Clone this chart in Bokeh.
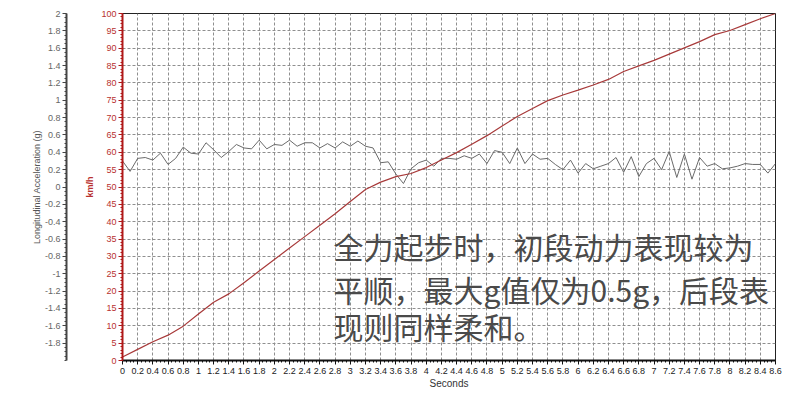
from bokeh.plotting import figure
from bokeh.models import (Range1d, LinearAxis, SingleIntervalTicker, FixedTicker,
                          CustomJSTickFormatter, Label, ColumnDataSource)
from bokeh.embed import file_html
from bokeh.resources import INLINE

# Longitudinal acceleration (g), logged every 0.1 s
accel_time = [round(i * 0.1, 1) for i in range(87)]
accel_g = [
    0.30, 0.18, 0.33, 0.34, 0.31, 0.39, 0.26, 0.33, 0.46, 0.39,
    0.38, 0.51, 0.43, 0.34, 0.41, 0.49, 0.45, 0.44, 0.54, 0.44,
    0.49, 0.48, 0.54, 0.47, 0.51, 0.51, 0.45, 0.50, 0.45, 0.52,
    0.47, 0.53, 0.47, 0.45, 0.28, 0.29, 0.15, 0.04, 0.21, 0.28,
    0.31, 0.24, 0.33, 0.33, 0.32, 0.36, 0.33, 0.38, 0.27, 0.42,
    0.40, 0.27, 0.45, 0.27, 0.38, 0.32, 0.33, 0.26, 0.20, 0.31,
    0.16, 0.27, 0.21, 0.24, 0.27, 0.34, 0.17, 0.35, 0.12, 0.27,
    0.33, 0.20, 0.41, 0.11, 0.38, 0.09, 0.34, 0.24, 0.27, 0.21,
    0.22, 0.24, 0.27, 0.26, 0.26, 0.16, 0.27,
]

# Vehicle speed (km/h), every 0.2 s
speed_time = [round(i * 0.2, 1) for i in range(44)]
speed_kmh = [
    1.0, 3.2, 5.4, 7.3, 9.9, 13.4, 16.8, 19.2, 22.4, 25.8,
    29.1, 32.4, 35.7, 39.0, 42.3, 45.8, 49.3, 51.4, 53.0, 53.9,
    55.6, 57.8, 59.9, 62.3, 64.8, 67.6, 70.3, 72.6, 74.9, 76.5,
    77.9, 79.4, 81.0, 83.3, 84.9, 86.5, 88.3, 90.1, 91.9, 93.9,
    95.1, 96.8, 98.5, 100.0,
]

accel_ticks = [-1.8, -1.6, -1.4, -1.2, -1.0, -0.8, -0.6, -0.4, -0.2, 0.0,
               0.2, 0.4, 0.6, 0.8, 1.0, 1.2, 1.4, 1.6, 1.8, 2.0]

note_lines = ["全力起步时，初段动力表现较为",
              "平顺，最大g值仅为0.5g，后段表",
              "现则同样柔和。"]

AXIS_FONT = "Liberation Sans"
RED = "#b8312f"
GRID = "#8f8f8f"

p = figure(width=800, height=400, output_backend="svg", toolbar_location=None,
           x_range=Range1d(0, 8.6), y_range=Range1d(0, 100),
           min_border_left=122, min_border_right=25, min_border_top=13,
           min_border_bottom=40, background_fill_color="white",
           border_fill_color="white")
p.extra_y_ranges = {"accel": Range1d(-2, 2)}
p.outline_line_color = "#222222"
p.outline_line_width = 1

one_decimal = CustomJSTickFormatter(code="return (Math.round(tick * 10) / 10).toString();")

# x axis: seconds
xa = p.xaxis[0]
xa.ticker = SingleIntervalTicker(interval=0.2, num_minor_ticks=4)
xa.formatter = one_decimal
xa.axis_label = "Seconds"
xa.axis_label_text_font = AXIS_FONT
xa.axis_label_text_font_size = "10px"
xa.axis_label_text_font_style = "normal"
xa.axis_label_text_color = "#333333"
xa.axis_label_standoff = 1
xa.major_label_text_font = AXIS_FONT
xa.major_label_text_font_size = "9px"
xa.major_label_text_color = "#222222"
xa.major_label_standoff = 3
xa.axis_line_color = "#111111"
xa.axis_line_width = 2
xa.major_tick_line_color = "#111111"
xa.minor_tick_line_color = "#111111"
xa.major_tick_in = 0
xa.major_tick_out = 4
xa.minor_tick_in = 0
xa.minor_tick_out = 2

# inner left axis: speed
ya = p.yaxis[0]
ya.ticker = SingleIntervalTicker(interval=5, num_minor_ticks=5)
ya.axis_label = "km/h"
ya.axis_label_text_font = AXIS_FONT
ya.axis_label_text_font_size = "9px"
ya.axis_label_text_font_style = "bold"
ya.axis_label_text_color = RED
ya.axis_label_standoff = 3
ya.major_label_text_font = AXIS_FONT
ya.major_label_text_font_size = "9px"
ya.major_label_text_color = RED
ya.major_label_standoff = 2
ya.axis_line_color = "#b01818"
ya.axis_line_width = 2
ya.major_tick_line_color = "#b01818"
ya.minor_tick_line_color = "#b01818"
ya.major_tick_in = 0
ya.major_tick_out = 4
ya.minor_tick_in = 0
ya.minor_tick_out = 2

# blank axis that only reserves room between the two scales
spacer = LinearAxis(y_range_name="accel", ticker=FixedTicker(ticks=[-2.0]),
                    axis_line_color=None, major_tick_line_color="white",
                    minor_tick_line_color=None, major_label_text_color="white",
                    major_label_text_font_size="1px",
                    major_tick_in=0, major_tick_out=12, minor_tick_in=0,
                    minor_tick_out=0, major_label_standoff=0)
p.add_layout(spacer, "left")

# outer left axis: acceleration
ga = LinearAxis(y_range_name="accel",
                ticker=FixedTicker(ticks=accel_ticks,
                                   minor_ticks=[round(-2 + 0.05 * i, 2) for i in range(81)]),
                formatter=one_decimal)
ga.axis_label = "Longitudinal Acceleration (g)"
ga.axis_label_text_font = AXIS_FONT
ga.axis_label_text_font_size = "9px"
ga.axis_label_text_font_style = "normal"
ga.axis_label_text_color = "#555555"
ga.axis_label_standoff = 0
ga.major_label_text_font = AXIS_FONT
ga.major_label_text_font_size = "9px"
ga.major_label_text_color = "#666666"
ga.major_label_standoff = 2
ga.axis_line_color = "#444444"
ga.axis_line_width = 2
ga.major_tick_line_color = "#444444"
ga.minor_tick_line_color = "#444444"
ga.major_tick_in = 0
ga.major_tick_out = 4
ga.minor_tick_in = 0
ga.minor_tick_out = 2
p.add_layout(ga, "left")

# dashed grid
p.xgrid.ticker = SingleIntervalTicker(interval=0.2)
p.ygrid.ticker = SingleIntervalTicker(interval=5)
for g in (p.xgrid[0], p.ygrid[0]):
    g.grid_line_color = GRID
    g.grid_line_dash = "3 2"
    g.grid_line_width = 1

accel_src = ColumnDataSource(data=dict(t=accel_time, g=accel_g))
speed_src = ColumnDataSource(data=dict(t=speed_time, v=speed_kmh))

p.line("t", "g", source=accel_src, y_range_name="accel",
       line_color="#6a6a6a", line_width=1)
p.line("t", "v", source=speed_src, line_color="#a83a3a", line_width=1.2)

# commentary overlay
for text, y in zip(note_lines, [33.1, 20.7, 9.8]):
    p.add_layout(Label(x=2.78, y=y, text=text, text_font="Noto Sans CJK SC",
                       text_font_size="30px", text_color="#4a4a4a",
                       text_baseline="middle", text_align="left"))

open("out.html", "w").write(file_html(p, INLINE))
